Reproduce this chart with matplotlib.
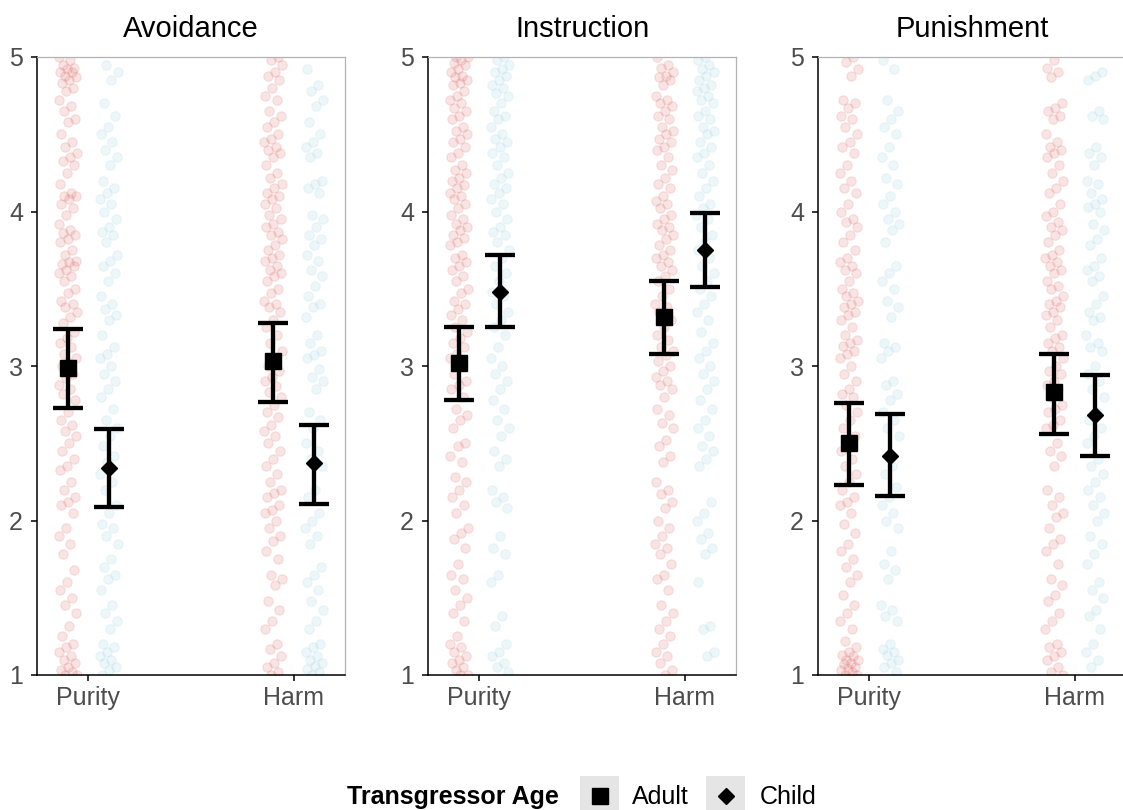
import numpy as np
import matplotlib
matplotlib.use("Agg")
import matplotlib.pyplot as plt
from matplotlib.patches import Rectangle

plt.rcParams["font.family"] = ["Liberation Sans", "DejaVu Sans"]

facets = ["Avoidance", "Instruction", "Punishment"]
domains = ["Purity", "Harm"]
ages = ["Adult", "Child"]

# mean and 95% CI per facet, ordered [Purity, Harm]
adult_mean = [[2.99, 3.03], [3.02, 3.32], [2.50, 2.83]]
adult_lo = [[2.73, 2.77], [2.78, 3.08], [2.23, 2.56]]
adult_hi = [[3.24, 3.28], [3.25, 3.55], [2.76, 3.08]]
child_mean = [[2.34, 2.37], [3.48, 3.75], [2.42, 2.68]]
child_lo = [[2.09, 2.11], [3.25, 3.51], [2.16, 2.42]]
child_hi = [[2.59, 2.62], [3.72, 3.99], [2.69, 2.94]]

# raw ratings
avoid_purity_adult = [5.0, 4.98, 4.95, 4.93, 4.92, 4.9, 4.9, 4.88, 4.87, 4.85, 4.83, 4.8, 4.78, 4.72, 4.68,
                      4.65, 4.6, 4.58, 4.5, 4.45, 4.42, 4.38, 4.35, 4.33, 4.3, 4.25, 4.18, 4.12, 4.1, 4.1,
                      4.08, 4.05, 4.02, 3.98, 3.92, 3.88, 3.86, 3.85, 3.82, 3.8, 3.75, 3.72, 3.68, 3.67,
                      3.66, 3.65, 3.62, 3.6, 3.58, 3.55, 3.5, 3.47, 3.42, 3.4, 3.38, 3.35, 3.32, 3.28, 3.22,
                      3.18, 3.15, 3.12, 3.08, 3.05, 3.02, 3.0, 2.95, 2.92, 2.88, 2.85, 2.82, 2.78, 2.7, 2.65,
                      2.62, 2.58, 2.55, 2.5, 2.45, 2.4, 2.35, 2.33, 2.25, 2.2, 2.15, 2.12, 2.1, 2.05, 1.95,
                      1.9, 1.85, 1.78, 1.68, 1.6, 1.55, 1.5, 1.45, 1.4, 1.32, 1.25, 1.2, 1.18, 1.15, 1.12,
                      1.1, 1.08, 1.05, 1.03, 1.02, 1.0, 1.0]
avoid_purity_child = [4.95, 4.9, 4.85, 4.7, 4.62, 4.55, 4.5, 4.45, 4.4, 4.35, 4.3, 4.2, 4.15, 4.12, 4.08,
                      4.05, 4.0, 3.95, 3.9, 3.87, 3.85, 3.8, 3.72, 3.68, 3.65, 3.6, 3.55, 3.45, 3.4, 3.37,
                      3.33, 3.3, 3.2, 3.12, 3.08, 3.05, 3.0, 2.95, 2.9, 2.85, 2.8, 2.72, 2.65, 2.6, 2.55,
                      2.48, 2.42, 2.38, 2.3, 2.25, 2.2, 2.1, 2.05, 1.98, 1.95, 1.9, 1.85, 1.75, 1.7, 1.65,
                      1.62, 1.55, 1.45, 1.4, 1.35, 1.3, 1.2, 1.18, 1.15, 1.12, 1.1, 1.08, 1.05, 1.03, 1.0]
avoid_harm_adult = [5.0, 4.98, 4.95, 4.9, 4.88, 4.85, 4.8, 4.75, 4.72, 4.65, 4.62, 4.58, 4.55, 4.5, 4.47,
                    4.45, 4.42, 4.4, 4.38, 4.35, 4.3, 4.25, 4.22, 4.18, 4.15, 4.12, 4.1, 4.08, 4.05, 4.02,
                    3.98, 3.95, 3.92, 3.9, 3.87, 3.85, 3.82, 3.78, 3.75, 3.72, 3.7, 3.68, 3.65, 3.62, 3.6,
                    3.58, 3.55, 3.5, 3.47, 3.42, 3.4, 3.38, 3.35, 3.3, 3.25, 3.2, 3.15, 3.1, 3.05, 3.0,
                    2.97, 2.93, 2.9, 2.87, 2.83, 2.8, 2.75, 2.7, 2.67, 2.62, 2.58, 2.55, 2.5, 2.45, 2.4,
                    2.35, 2.3, 2.25, 2.2, 2.18, 2.15, 2.1, 2.07, 2.05, 2.0, 1.95, 1.9, 1.87, 1.8, 1.75,
                    1.65, 1.62, 1.58, 1.48, 1.42, 1.35, 1.3, 1.2, 1.17, 1.12, 1.08, 1.05, 1.02, 1.0]
avoid_harm_child = [4.92, 4.82, 4.78, 4.72, 4.68, 4.58, 4.5, 4.45, 4.42, 4.38, 4.35, 4.2, 4.18, 4.15, 4.12,
                    3.98, 3.95, 3.9, 3.85, 3.82, 3.78, 3.72, 3.68, 3.62, 3.58, 3.52, 3.45, 3.4, 3.38, 3.32,
                    3.2, 3.15, 3.1, 3.07, 3.05, 2.98, 2.93, 2.9, 2.85, 2.7, 2.65, 2.6, 2.5, 2.45, 2.4,
                    2.35, 2.2, 2.15, 2.05, 2.0, 1.95, 1.9, 1.85, 1.7, 1.65, 1.6, 1.55, 1.48, 1.42, 1.35,
                    1.3, 1.2, 1.18, 1.15, 1.12, 1.1, 1.08, 1.06, 1.04, 1.02, 1.0]
instr_purity_adult = [5.0, 5.0, 4.98, 4.96, 4.95, 4.92, 4.9, 4.88, 4.87, 4.85, 4.83, 4.82, 4.78, 4.75, 4.72,
                      4.7, 4.67, 4.65, 4.62, 4.6, 4.55, 4.52, 4.5, 4.47, 4.45, 4.42, 4.38, 4.35, 4.3, 4.27,
                      4.25, 4.22, 4.2, 4.17, 4.15, 4.12, 4.1, 4.08, 4.05, 4.02, 3.98, 3.95, 3.92, 3.9, 3.88,
                      3.85, 3.83, 3.8, 3.78, 3.72, 3.7, 3.67, 3.65, 3.62, 3.58, 3.55, 3.5, 3.47, 3.42, 3.4,
                      3.37, 3.33, 3.3, 3.25, 3.22, 3.18, 3.15, 3.12, 3.08, 3.05, 3.0, 2.95, 2.9, 2.88, 2.85,
                      2.8, 2.72, 2.68, 2.65, 2.6, 2.5, 2.48, 2.42, 2.38, 2.28, 2.25, 2.2, 2.15, 2.1, 2.05,
                      1.95, 1.92, 1.88, 1.82, 1.72, 1.65, 1.62, 1.55, 1.5, 1.45, 1.4, 1.35, 1.25, 1.2, 1.18,
                      1.15, 1.12, 1.1, 1.08, 1.05, 1.03, 1.0, 1.0]
instr_purity_child = [5.0, 4.98, 4.95, 4.92, 4.9, 4.88, 4.85, 4.82, 4.8, 4.77, 4.75, 4.7, 4.65, 4.62, 4.6,
                      4.55, 4.5, 4.47, 4.45, 4.42, 4.38, 4.35, 4.3, 4.25, 4.22, 4.18, 4.15, 4.12, 4.08, 4.05,
                      4.0, 3.95, 3.9, 3.87, 3.85, 3.8, 3.75, 3.7, 3.65, 3.6, 3.55, 3.48, 3.45, 3.4, 3.35,
                      3.3, 3.25, 3.2, 3.12, 3.05, 3.0, 2.95, 2.9, 2.85, 2.78, 2.72, 2.65, 2.6, 2.55, 2.45,
                      2.4, 2.35, 2.2, 2.15, 2.12, 2.08, 1.9, 1.82, 1.78, 1.65, 1.6, 1.38, 1.32, 1.2, 1.15,
                      1.12, 1.08, 1.05, 1.02]
instr_harm_adult = [5.0, 4.95, 4.93, 4.9, 4.88, 4.87, 4.85, 4.82, 4.75, 4.72, 4.7, 4.68, 4.65, 4.62, 4.6,
                    4.55, 4.52, 4.5, 4.47, 4.45, 4.42, 4.4, 4.35, 4.3, 4.27, 4.22, 4.18, 4.15, 4.1, 4.07,
                    4.05, 4.02, 3.98, 3.95, 3.92, 3.9, 3.88, 3.85, 3.82, 3.78, 3.75, 3.72, 3.7, 3.67, 3.65,
                    3.62, 3.58, 3.55, 3.5, 3.45, 3.4, 3.38, 3.35, 3.3, 3.25, 3.2, 3.17, 3.12, 3.1, 3.07,
                    3.03, 3.0, 2.97, 2.93, 2.9, 2.88, 2.85, 2.8, 2.72, 2.68, 2.63, 2.6, 2.52, 2.48, 2.42,
                    2.38, 2.25, 2.2, 2.17, 2.12, 2.08, 2.0, 1.95, 1.9, 1.85, 1.82, 1.78, 1.72, 1.65, 1.62,
                    1.55, 1.45, 1.4, 1.35, 1.3, 1.25, 1.2, 1.15, 1.12, 1.08, 1.03, 1.0]
instr_harm_child = [5.0, 4.98, 4.95, 4.92, 4.9, 4.88, 4.85, 4.82, 4.8, 4.78, 4.75, 4.72, 4.7, 4.65, 4.62,
                    4.6, 4.55, 4.52, 4.5, 4.45, 4.42, 4.38, 4.35, 4.3, 4.25, 4.2, 4.15, 4.1, 4.05, 4.02,
                    3.98, 3.95, 3.9, 3.85, 3.8, 3.75, 3.7, 3.65, 3.6, 3.55, 3.5, 3.45, 3.4, 3.35, 3.3,
                    3.22, 3.15, 3.1, 3.05, 3.0, 2.95, 2.9, 2.85, 2.78, 2.72, 2.65, 2.6, 2.55, 2.48, 2.45,
                    2.4, 2.35, 2.12, 2.05, 2.0, 1.92, 1.88, 1.82, 1.78, 1.6, 1.32, 1.3, 1.15, 1.12]
pun_purity_adult = [5.0, 4.97, 4.92, 4.88, 4.72, 4.7, 4.67, 4.62, 4.6, 4.55, 4.5, 4.45, 4.42, 4.38, 4.3,
                    4.25, 4.2, 4.15, 4.12, 4.05, 4.0, 3.95, 3.93, 3.9, 3.85, 3.8, 3.75, 3.7, 3.67, 3.65,
                    3.62, 3.6, 3.55, 3.5, 3.47, 3.45, 3.42, 3.4, 3.38, 3.35, 3.33, 3.3, 3.25, 3.2, 3.17,
                    3.15, 3.13, 3.1, 3.08, 3.05, 3.0, 2.95, 2.9, 2.85, 2.82, 2.8, 2.75, 2.7, 2.65, 2.6,
                    2.55, 2.5, 2.45, 2.4, 2.35, 2.3, 2.25, 2.2, 2.15, 2.12, 2.1, 2.05, 1.98, 1.92, 1.85,
                    1.8, 1.75, 1.7, 1.65, 1.6, 1.52, 1.45, 1.4, 1.35, 1.3, 1.22, 1.18, 1.15, 1.13, 1.12,
                    1.1, 1.1, 1.08, 1.07, 1.05, 1.04, 1.03, 1.02, 1.0, 1.0]
pun_purity_child = [4.98, 4.92, 4.72, 4.65, 4.6, 4.55, 4.5, 4.42, 4.35, 4.3, 4.22, 4.18, 4.1, 4.05, 4.0,
                    3.95, 3.92, 3.88, 3.8, 3.65, 3.6, 3.55, 3.5, 3.42, 3.38, 3.32, 3.15, 3.12, 3.1, 3.05,
                    2.9, 2.88, 2.82, 2.78, 2.7, 2.65, 2.6, 2.55, 2.35, 2.3, 2.22, 2.15, 2.1, 2.05, 2.0,
                    1.95, 1.8, 1.72, 1.68, 1.62, 1.45, 1.42, 1.38, 1.35, 1.2, 1.17, 1.15, 1.13, 1.1, 1.08,
                    1.05, 1.02]
pun_harm_adult = [4.98, 4.93, 4.9, 4.87, 4.7, 4.67, 4.65, 4.62, 4.6, 4.5, 4.45, 4.42, 4.4, 4.38, 4.35,
                  4.3, 4.25, 4.2, 4.15, 4.12, 4.05, 4.0, 3.97, 3.93, 3.9, 3.88, 3.85, 3.8, 3.75, 3.72,
                  3.7, 3.67, 3.65, 3.62, 3.6, 3.55, 3.52, 3.5, 3.45, 3.42, 3.4, 3.38, 3.35, 3.33, 3.3,
                  3.25, 3.2, 3.18, 3.15, 3.12, 3.1, 3.05, 3.0, 2.97, 2.95, 2.9, 2.88, 2.85, 2.8, 2.75,
                  2.72, 2.7, 2.65, 2.62, 2.6, 2.5, 2.45, 2.42, 2.35, 2.2, 2.15, 2.1, 2.05, 2.02, 1.95,
                  1.88, 1.85, 1.8, 1.72, 1.62, 1.58, 1.52, 1.48, 1.4, 1.35, 1.3, 1.2, 1.18, 1.15, 1.12,
                  1.1, 1.05, 1.02, 1.0]
pun_harm_child = [4.9, 4.88, 4.85, 4.65, 4.62, 4.6, 4.42, 4.38, 4.35, 4.3, 4.2, 4.18, 4.12, 4.08, 4.05,
                  4.03, 4.0, 3.92, 3.88, 3.82, 3.78, 3.7, 3.65, 3.62, 3.58, 3.55, 3.45, 3.4, 3.35, 3.32,
                  3.3, 3.2, 3.15, 3.12, 3.1, 3.0, 2.95, 2.9, 2.85, 2.8, 2.7, 2.65, 2.6, 2.55, 2.5,
                  2.4, 2.35, 2.3, 2.25, 2.2, 2.15, 2.1, 2.05, 2.0, 1.9, 1.85, 1.78, 1.72, 1.6, 1.55,
                  1.5, 1.42, 1.38, 1.3, 1.2, 1.15, 1.1, 1.05]

raw = [
    [[avoid_purity_adult, avoid_purity_child], [avoid_harm_adult, avoid_harm_child]],
    [[instr_purity_adult, instr_purity_child], [instr_harm_adult, instr_harm_child]],
    [[pun_purity_adult, pun_purity_child], [pun_harm_adult, pun_harm_child]],
]

PT_COL = ["#DE6464", "#A8D8E6"]
PT_ALPHA = [0.17, 0.2]
MARK = ["s", "D"]
MSIZE = [12, 7.8]
DODGE = 0.1
JIT = 0.045
TXT = "#4D4D4D"

W, H = 1123, 810
fig = plt.figure(figsize=(W / 100, H / 100), dpi=100)
lefts = [37, 428, 818]

for f, name in enumerate(facets):
    ax = fig.add_axes([lefts[f] / W, 135 / H, 308 / W, 618 / H])
    # raw points, deterministic jitter
    for d in range(2):
        for a in range(2):
            ys = np.array(raw[f][d][a])
            k = np.arange(len(ys))
            off = ((k * 0.618034 + 0.37 * (f + 2 * d + a)) % 1.0 - 0.5) * 2 * JIT
            xs = d + 1 + (2 * a - 1) * DODGE + off
            ax.scatter(xs, ys, s=46, color=PT_COL[a], alpha=PT_ALPHA[a], linewidths=0.8, zorder=2)
    # means with CIs
    for a, (m, lo, hi) in enumerate([(adult_mean, adult_lo, adult_hi),
                                     (child_mean, child_lo, child_hi)]):
        x = np.arange(1, 3) + (2 * a - 1) * DODGE
        mm = np.array(m[f]); l = np.array(lo[f]); h = np.array(hi[f])
        ax.errorbar(x, mm, yerr=[mm - l, h - mm], fmt=MARK[a], color="black", ms=MSIZE[a],
                    elinewidth=3.1, capsize=10.8, capthick=3.1, zorder=5)
    ax.set_xlim(0.75, 2.25)
    ax.set_ylim(1, 5)
    ax.set_xticks([1, 2])
    ax.set_xticklabels(domains)
    ax.set_yticks([1, 2, 3, 4, 5])
    ax.tick_params(labelsize=18, labelcolor=TXT, length=4, width=1.1, color="black")
    ax.tick_params(axis="x", pad=4)
    ax.tick_params(axis="y", pad=6)
    for s in ("left", "bottom"):
        ax.spines[s].set_color("black")
        ax.spines[s].set_linewidth(1.1)
    for s in ("top", "right"):
        ax.spines[s].set_color("#B3B3B3")
        ax.spines[s].set_linewidth(0.9)
    ax.text(0.5, 1 + 20 / 618, name, transform=ax.transAxes, ha="center", va="baseline",
            fontsize=21, color="black")

# legend at the bottom
lg = fig.add_axes([0, 0, 1, 1])
lg.set_xlim(0, W)
lg.set_ylim(H, 0)
lg.axis("off")
lg.text(347, 797, "Transgressor Age", fontsize=18, fontweight="bold", va="center", ha="left")
for i, (kx, tx) in enumerate([(580, 632), (706, 760)]):
    lg.add_patch(Rectangle((kx, 776), 39, 40, color="#E5E5E5", lw=0))
    lg.plot([kx + 19.5], [796], MARK[i], color="black", ms=MSIZE[i])
    lg.text(tx, 797, ages[i], fontsize=18, va="center", ha="left")

fig.savefig("out.png", dpi=100)
